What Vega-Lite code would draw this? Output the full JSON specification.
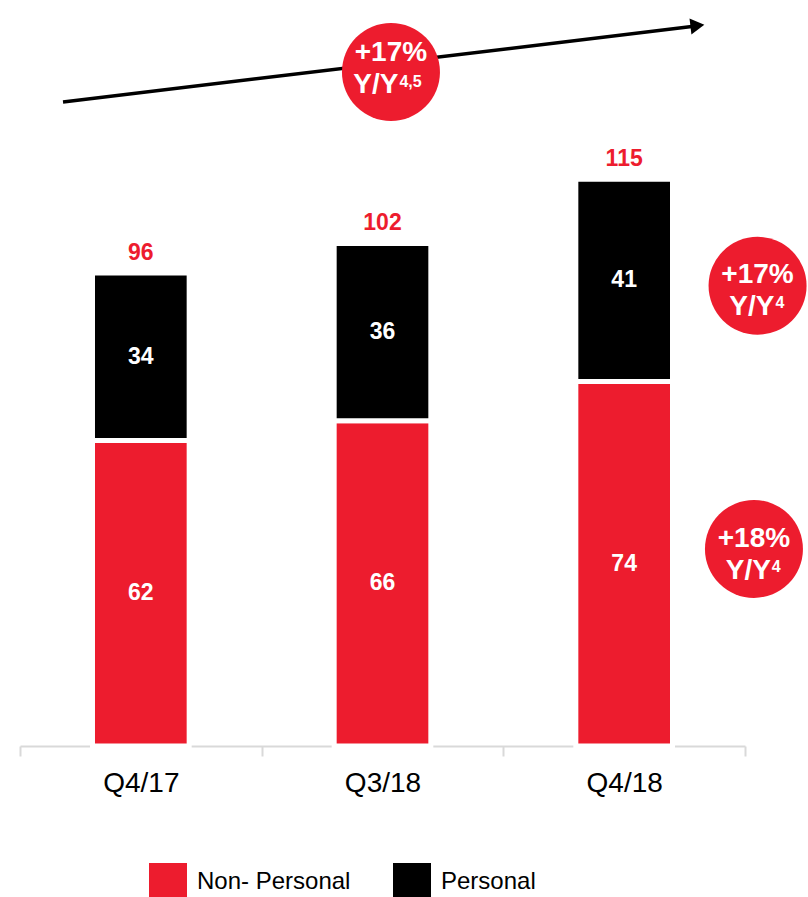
{
  "$schema": "https://vega.github.io/schema/vega-lite/v6.json",
  "width": 725,
  "height": 746,
  "autosize": {"type": "none"},
  "padding": {"left": 20, "top": 0, "right": 63, "bottom": 151},
  "background": "white",
  "config": {"view": {"stroke": null}, "font": "Liberation Sans"},
  "datasets": {
    "sales": [
      {"quarter": "Q4/17", "series": "Non- Personal", "value": 62},
      {"quarter": "Q4/17", "series": "Personal", "value": 34},
      {"quarter": "Q3/18", "series": "Non- Personal", "value": 66},
      {"quarter": "Q3/18", "series": "Personal", "value": 36},
      {"quarter": "Q4/18", "series": "Non- Personal", "value": 74},
      {"quarter": "Q4/18", "series": "Personal", "value": 41}
    ],
    "badges": [
      {"x": 1.535, "y": 136.8, "ty": 137.7, "split": 1.566, "pct": "+17%", "yy": "Y/Y", "sup": "4,5"},
      {"x": 3.052, "y": 93.4, "ty": 92.7, "split": 3.122, "pct": "+17%", "yy": "Y/Y", "sup": "4"},
      {"x": 3.037, "y": 40.0, "ty": 39.1, "split": 3.107, "pct": "+18%", "yy": "Y/Y", "sup": "4"}
    ],
    "arrow": [{"ax": 0.178, "ay": 130.7}, {"ax": 2.78, "ay": 146.0}],
    "arrowhead": [{"ax": 2.803, "ay": 146.2}]
  },
  "resolve": {"scale": {"x": "independent"}, "axis": {"x": "independent"}},
  "layer": [
    {
      "data": {"name": "sales"},
      "encoding": {
        "x": {
          "field": "quarter",
          "type": "nominal",
          "sort": ["Q4/17", "Q3/18", "Q4/18"],
          "scale": {"paddingInner": 0, "paddingOuter": 0},
          "axis": {
            "title": null,
            "labelAngle": 0,
            "labelFontSize": 28,
            "labelColor": "black",
            "labelFont": "Liberation Sans",
            "labelPadding": 13,
            "domainColor": "#d9d9d9",
            "domainWidth": 2,
            "tickColor": "#d9d9d9",
            "tickWidth": 2,
            "tickSize": 10,
            "tickBand": "extent",
            "grid": false
          }
        }
      },
      "layer": [
        {
          "mark": {"type": "bar", "width": {"band": 0.4}, "stroke": "white", "strokeWidth": 5},
          "encoding": {
            "y": {"field": "value", "type": "quantitative", "stack": "zero", "scale": {"domain": [0, 151.4], "nice": false}, "axis": null},
            "color": {
              "field": "series",
              "type": "nominal",
              "scale": {"domain": ["Non- Personal", "Personal"], "range": ["#ED1C2E", "#000000"]},
              "legend": {
                "title": null,
                "orient": "none",
                "legendX": 129,
                "legendY": 863,
                "direction": "horizontal",
                "symbolType": "square",
                "symbolSize": 1444,
                "symbolStrokeWidth": 0,
                "symbolOpacity": 1,
                "labelFontSize": 24,
                "labelFont": "Liberation Sans",
                "labelColor": "black",
                "labelOffset": 10,
                "columnPadding": 42,
                "padding": 0
              }
            },
            "order": {"field": "series"}
          }
        },
        {
          "transform": [
            {"stack": "value", "groupby": ["quarter"], "sort": [{"field": "series"}], "as": ["v0", "v1"]},
            {"fold": ["v0", "v1"], "as": ["k", "pos"]},
            {"aggregate": [{"op": "mean", "field": "pos", "as": "mid"}, {"op": "max", "field": "value", "as": "value"}], "groupby": ["quarter", "series"]}
          ],
          "mark": {"type": "text", "color": "white", "fontSize": 23, "fontWeight": "bold", "baseline": "middle"},
          "encoding": {
            "y": {"field": "mid", "type": "quantitative", "scale": {"domain": [0, 151.4], "nice": false}, "axis": null},
            "text": {"field": "value", "type": "quantitative"}
          }
        },
        {
          "transform": [{"aggregate": [{"op": "sum", "field": "value", "as": "total"}], "groupby": ["quarter"]}],
          "mark": {"type": "text", "color": "#ED1C2E", "fontSize": 23, "fontWeight": "bold", "baseline": "alphabetic", "dy": -13},
          "encoding": {
            "y": {"field": "total", "type": "quantitative", "scale": {"domain": [0, 151.4], "nice": false}, "axis": null},
            "text": {"field": "total", "type": "quantitative"}
          }
        }
      ]
    },
    {
      "layer": [
        {
          "data": {"name": "arrow"},
          "mark": {"type": "line", "color": "black", "strokeWidth": 3.5},
          "encoding": {
            "x": {"field": "ax", "type": "quantitative", "scale": {"domain": [0, 3], "nice": false, "zero": false}, "axis": null},
            "y": {"field": "ay", "type": "quantitative", "scale": {"domain": [0, 151.4], "nice": false}, "axis": null}
          }
        },
        {
          "data": {"name": "arrowhead"},
          "mark": {"type": "point", "shape": "triangle-right", "filled": true, "color": "black", "opacity": 1, "size": 260, "angle": 353.2},
          "encoding": {
            "x": {"field": "ax", "type": "quantitative", "scale": {"domain": [0, 3], "nice": false, "zero": false}, "axis": null},
            "y": {"field": "ay", "type": "quantitative", "scale": {"domain": [0, 151.4], "nice": false}, "axis": null}
          }
        },
        {
          "data": {"name": "badges"},
          "mark": {"type": "circle", "color": "#ED1C2E", "opacity": 1, "size": 9604},
          "encoding": {
            "x": {"field": "x", "type": "quantitative", "scale": {"domain": [0, 3], "nice": false, "zero": false}, "axis": null},
            "y": {"field": "y", "type": "quantitative", "scale": {"domain": [0, 151.4], "nice": false}, "axis": null}
          }
        },
        {
          "data": {"name": "badges"},
          "mark": {"type": "text", "color": "white", "fontSize": 28, "fontWeight": "bold", "baseline": "middle", "align": "center", "dy": -14.5},
          "encoding": {
            "x": {"field": "x", "type": "quantitative", "scale": {"domain": [0, 3], "nice": false, "zero": false}, "axis": null},
            "y": {"field": "ty", "type": "quantitative", "scale": {"domain": [0, 151.4], "nice": false}, "axis": null},
            "text": {"field": "pct", "type": "nominal"}
          }
        },
        {
          "data": {"name": "badges"},
          "mark": {"type": "text", "color": "white", "fontSize": 28, "fontWeight": "bold", "baseline": "middle", "align": "right", "dy": 17.5},
          "encoding": {
            "x": {"field": "split", "type": "quantitative", "scale": {"domain": [0, 3], "nice": false, "zero": false}, "axis": null},
            "y": {"field": "ty", "type": "quantitative", "scale": {"domain": [0, 151.4], "nice": false}, "axis": null},
            "text": {"field": "yy", "type": "nominal"}
          }
        },
        {
          "data": {"name": "badges"},
          "mark": {"type": "text", "color": "white", "fontSize": 16, "fontWeight": "bold", "baseline": "middle", "align": "left", "dx": 1, "dy": 14},
          "encoding": {
            "x": {"field": "split", "type": "quantitative", "scale": {"domain": [0, 3], "nice": false, "zero": false}, "axis": null},
            "y": {"field": "ty", "type": "quantitative", "scale": {"domain": [0, 151.4], "nice": false}, "axis": null},
            "text": {"field": "sup", "type": "nominal"}
          }
        }
      ]
    }
  ]
}
